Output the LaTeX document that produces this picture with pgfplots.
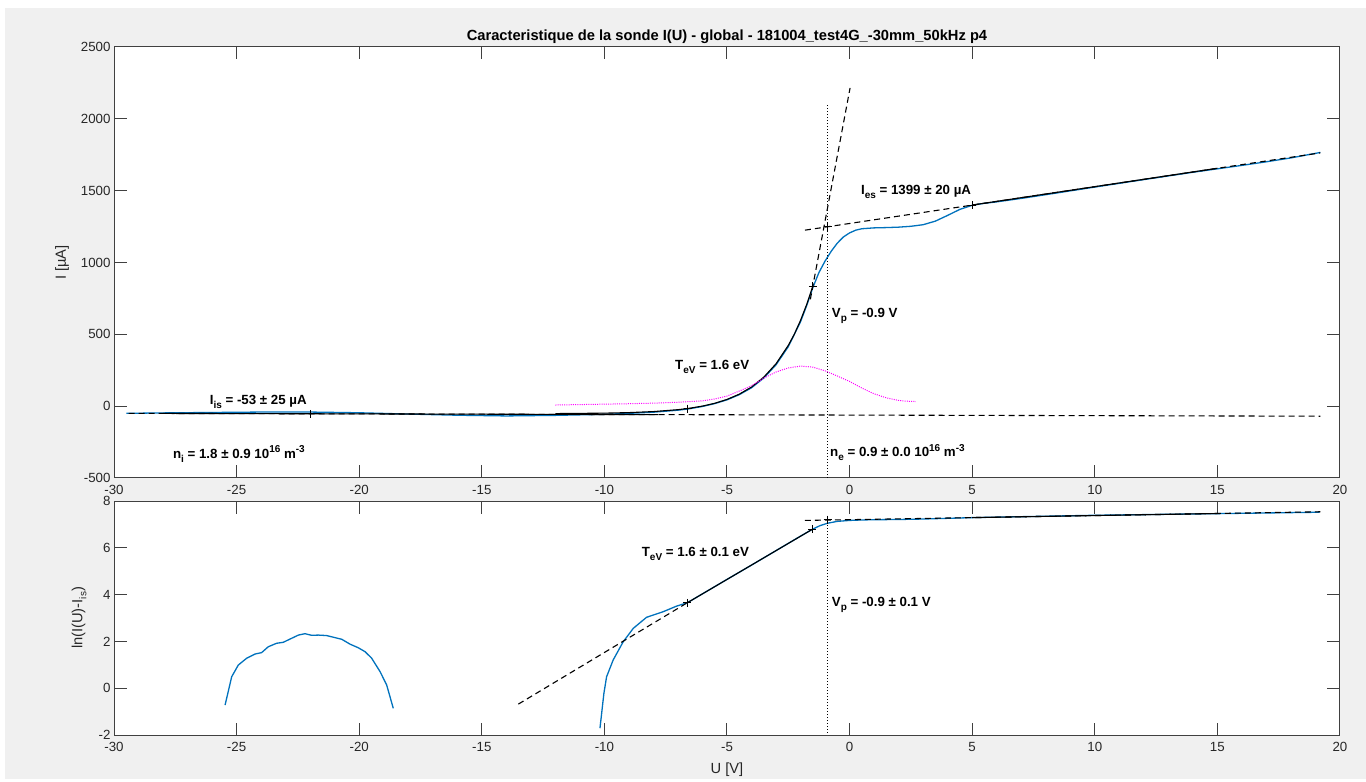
\documentclass[border=0pt]{standalone}
\usepackage{fontspec}
\setmainfont{Liberation Sans}
\usepackage{pgfplots}
\pgfplotsset{compat=1.18}
\definecolor{mblue}{RGB}{0,114,189}
\definecolor{figbg}{RGB}{240,240,240}
\definecolor{axgrey}{RGB}{64,64,64}
\definecolor{txtgrey}{RGB}{38,38,38}
\definecolor{mmag}{RGB}{255,0,255}
\newcommand{\fs}[1]{\fontsize{#1}{#1}\selectfont}
\newcommand{\sub}[1]{\raisebox{-4pt}{\fs{10}#1}}
\newcommand{\sups}[1]{\raisebox{5.5pt}{\fs{10}#1}}
\pgfplotsset{mlstyle/.style={
  scale only axis, width=1226pt, anchor=south west,
  xmin=-30, xmax=20, xtick={-30,-25,...,20},
  tick align=inside, major tick length=12.5pt,
  axis line style={line width=1pt, draw=axgrey},
  tick style={line width=1pt, draw=axgrey},
  ticklabel style={font=\fs{13.3}, text=txtgrey},
  xticklabel style={yshift=-4pt},
  /pgf/number format/assume math mode=true,
  /pgf/number format/1000 sep={},
  scaled ticks=false, clip=false,
  axis background/.style={fill=white},
}}
\tikzset{mdash/.style={black, line width=1.1pt, dash pattern=on 6pt off 4pt},
  mdot/.style={black, line width=0.9pt, dash pattern=on 1pt off 2pt},
  fitline/.style={black, line width=1.1pt},
  dataline/.style={mblue, line width=1.3pt},
  anno/.style={font=\bfseries\fs{13.3}, anchor=base west, inner sep=0pt, text=black}}
\begin{document}
\begin{tikzpicture}
\fill[white] (0,0) rectangle (1366pt,782pt);
\fill[figbg] (5pt,3pt) rectangle (1366pt,774pt);
% ---------------- top axis
\begin{axis}[mlstyle, at={(114pt,304pt)}, height=431pt,
  ymin=-500, ymax=2500, ytick={-500,0,...,2500}]
\addplot[dataline] coordinates {
(-29.5,-50) (-28,-47) (-26,-44) (-24,-41) (-22,-41) (-20,-46) (-18,-55)
(-16,-63) (-14,-68) (-12,-64) (-10,-57) (-9,-50) (-8,-42) (-7,-28) (-6.6,-20)
(-6,-2) (-5.5,18) (-5,44) (-4.5,80) (-4,128) (-3.5,196) (-3,288) (-2.5,414)
(-2,588) (-1.75,700) (-1.5,825) (-1.25,930) (-1,1010) (-0.75,1078) (-0.5,1135)
(-0.25,1178) (0,1206) (0.25,1225) (0.5,1235) (1,1241) (1.5,1243) (2,1246)
(2.5,1252) (3,1263) (3.5,1288) (4,1328) (4.5,1370) (5,1398) (5.5,1412)
(6,1422) (7,1446) (8,1472) (10,1525) (12,1577) (14,1628) (15,1652)
(16,1676) (17,1701) (18,1728) (19.2,1766)};
\addplot[fitline] coordinates {(-28,-50.5) (-7.8,-58.8)};
\addplot[fitline] coordinates {
(-12,-51.7) (-10,-48.6) (-9,-44.8) (-8,-37.7) (-7,-24.4) (-6.6,-16.3)
(-6,0.4) (-5.5,20) (-5,46.8) (-4.5,83.3) (-4,133.3) (-3.5,201.7) (-3,295.1)
(-2.5,422.9) (-2.25,502) (-2,597.4) (-1.75,707.4) (-1.5,836)};
\addplot[fitline] coordinates {(5,1400) (15,1656)};
\addplot[mdash] coordinates {(-29.4,-50) (19.2,-69.9)};
\addplot[mdash] coordinates {(-1.6,744) (0.02,2215)};
\addplot[mdash] coordinates {(-1.82,1225) (19.2,1763)};
\addplot[mdot] coordinates {(-0.9,2096) (-0.9,-500)};
\addplot[mmag, line width=1pt, dash pattern=on 1pt off 1.2pt] coordinates {
(-12,8) (-11,11) (-10,14) (-9,17) (-8,21) (-7,27) (-6,37) (-5.5,50)
(-5,70) (-4.5,105) (-4,142) (-3.5,195) (-3,238) (-2.5,266) (-2,279)
(-1.5,272) (-1,246) (-0.5,210) (0,172) (0.5,126) (1,86) (1.5,58) (2,40)
(2.3,35) (2.7,32)};
\addplot[only marks, mark=+, mark size=4pt, black, mark options={line width=0.9pt}] coordinates {
(-22,-53) (-6.6,-16.3) (-1.5,836) (-0.9,1249) (5,1400)};
\node[anno] at (axis cs:-26.1,15) {I\sub{is} = -53 ± 25 µA};
\node[anno] at (axis cs:-27.6,-361) {n\sub{i} = 1.8 ± 0.9 10\sups{16} m\sups{-3}};
\node[anno] at (axis cs:-7.12,252) {T\sub{eV} = 1.6 eV};
\node[anno] at (axis cs:-0.73,614) {V\sub{p} = -0.9 V};
\node[anno] at (axis cs:-0.8,-352) {n\sub{e} = 0.9 ± 0.0 10\sups{16} m\sups{-3}};
\node[anno] at (axis cs:0.46,1470) {I\sub{es} = 1399 ± 20 µA};
\end{axis}
% ---------------- bottom axis
\begin{axis}[mlstyle, at={(114pt,47pt)}, height=234pt,
  ymin=-2, ymax=8, ytick={-2,0,...,8}]
\addplot[dataline] coordinates {
(-25.47,-0.72) (-25.2,0.49) (-24.93,0.99) (-24.59,1.28) (-24.25,1.46)
(-23.98,1.52) (-23.71,1.77) (-23.37,1.92) (-23.1,1.96) (-22.82,2.10)
(-22.48,2.27) (-22.21,2.33) (-21.94,2.26) (-21.67,2.27) (-21.33,2.25)
(-21.06,2.18) (-20.71,2.09) (-20.37,1.88) (-20.04,1.73) (-19.76,1.56)
(-19.49,1.28) (-19.15,0.71) (-18.88,0.14) (-18.61,-0.86)};
\addplot[dataline] coordinates {
(-10.18,-1.71) (-10.02,-0.22) (-9.91,0.49) (-9.64,1.21) (-9.23,1.99)
(-8.82,2.56) (-8.28,3.03) (-7.6,3.27) (-7.05,3.51) (-6.62,3.65) (-5,4.65)
(-4,5.26) (-3,5.88) (-2,6.50) (-1.52,6.79) (-1.2,6.95) (-0.9,7.05)
(-0.5,7.13) (0,7.17) (0.5,7.19) (1,7.20) (2,7.21) (3,7.23) (4,7.26)
(5,7.29) (10,7.39) (15,7.46) (19.17,7.52)};
\addplot[fitline] coordinates {(-6.62,3.65) (-1.52,6.79)};
\addplot[fitline] coordinates {(5,7.29) (15,7.466)};
\addplot[mdash] coordinates {(-13.51,-0.68) (-6.62,3.65)};
\addplot[mdash] coordinates {(-1.82,7.17) (19.2,7.54)};
\addplot[mdot] coordinates {(-0.9,7.22) (-0.9,-2)};
\addplot[only marks, mark=+, mark size=4pt, black, mark options={line width=0.9pt}] coordinates {
(-6.62,3.65) (-1.52,6.79) (-0.9,7.2)};
\node[anno] at (axis cs:-8.48,5.62) {T\sub{eV} = 1.6 ± 0.1 eV};
\node[anno] at (axis cs:-0.73,3.48) {V\sub{p} = -0.9 ± 0.1 V};
\end{axis}
% ---------------- labels and title
\node[rotate=90, font=\fs{14.7}, text=txtgrey] at (62pt,519.5pt) {I [µA]};
\node[rotate=90, font=\fs{14.7}, text=txtgrey] at (79pt,164pt) {ln(I(U)-I\sub{is})};
\node[font=\fs{14.7}, text=txtgrey] at (727pt,12pt) {U [V]};
\node[font=\bfseries\fs{14.7}, text=black] at (727pt,745pt) {Caracteristique de la sonde I(U) - global - 181004\_test4G\_-30mm\_50kHz p4};
\pgfresetboundingbox
\path[use as bounding box] (0,0) rectangle (1366pt,782pt);
\end{tikzpicture}
\end{document}
